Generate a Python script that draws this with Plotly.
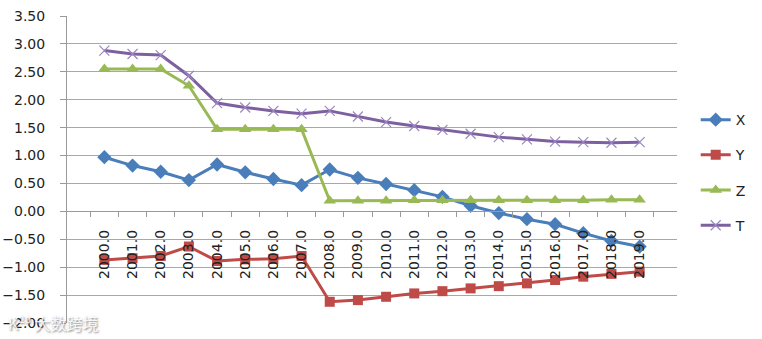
import plotly.graph_objects as go

years = [str(y) + ".0" for y in range(2000, 2020)]
x_vals = [0.97, 0.82, 0.71, 0.56, 0.84, 0.70, 0.58, 0.47, 0.75, 0.60,
          0.49, 0.38, 0.26, 0.10, -0.03, -0.14, -0.23, -0.39, -0.53, -0.63]
y_vals = [-0.87, -0.84, -0.80, -0.63, -0.89, -0.86, -0.85, -0.80, -1.62, -1.59,
          -1.53, -1.47, -1.43, -1.38, -1.34, -1.29, -1.23, -1.17, -1.12, -1.08]
z_vals = [2.55, 2.55, 2.55, 2.25, 1.47, 1.47, 1.47, 1.47, 0.19, 0.19,
          0.19, 0.20, 0.20, 0.20, 0.20, 0.20, 0.20, 0.20, 0.21, 0.21]
t_vals = [2.88, 2.82, 2.80, 2.43, 1.94, 1.86, 1.80, 1.75, 1.80, 1.70,
          1.60, 1.53, 1.46, 1.39, 1.33, 1.29, 1.25, 1.24, 1.23, 1.24]

series = [
    ("X", x_vals, "#4A7EBB", dict(symbol="diamond", size=11)),
    ("Y", y_vals, "#BE4B48", dict(symbol="square", size=10)),
    ("Z", z_vals, "#98B954", dict(symbol="triangle-up", size=11)),
    ("T", t_vals, "#7D60A0", dict(symbol="x-thin", size=10,
                                   line=dict(width=1.2, color="#9C86C0"))),
]

fig = go.Figure()
for name, vals, color, mk in series:
    marker = dict(color=color, **mk)
    fig.add_trace(go.Scatter(
        x=years, y=vals, name=name, mode="lines+markers",
        line=dict(color=color, width=3), marker=marker,
        legendgroup=name,
    ))

fig.update_layout(
    width=762, height=339,
    margin=dict(l=67, r=85, t=16, b=16, autoexpand=False),
    paper_bgcolor="white", plot_bgcolor="white",
    font=dict(family="DejaVu Sans", size=14, color="#222222"),
    showlegend=True,
    legend=dict(xref="container", yref="container", x=0.913, y=0.693,
                xanchor="left", yanchor="top",
                traceorder="grouped", tracegroupgap=14,
                font=dict(size=14, color="#222222"),
                itemwidth=30, bgcolor="rgba(0,0,0,0)"),
    xaxis=dict(
        type="category", anchor="free", position=2 / 5.5, automargin=False,
        showline=True, linecolor="#9a9a9a", linewidth=1,
        showgrid=False, ticks="outside", ticklen=5, tickcolor="#9a9a9a",
        tickson="boundaries", tickangle=-90, ticklabelstandoff=12,
        zeroline=False,
    ),
    yaxis=dict(
        range=[-2, 3.5], dtick=0.5, tickformat=".2f", automargin=False,
        showgrid=True, gridcolor="#a8a8a8", gridwidth=1,
        showline=True, linecolor="#9a9a9a", linewidth=1,
        ticks="outside", ticklen=6, tickcolor="#9a9a9a",
        zeroline=False, ticklabelstandoff=12,
    ),
)

fig.add_annotation(
    xref="paper", yref="paper", x=-0.1, y=-0.045, xanchor="left", yanchor="bottom",
    text="K²⁰ 大数跨境", showarrow=False,
    font=dict(family="Noto Sans CJK SC", size=16, color="rgba(255,255,255,0.9)",
              shadow="1px 1px 2px #777"),
)

fig.write_html("out.html")
